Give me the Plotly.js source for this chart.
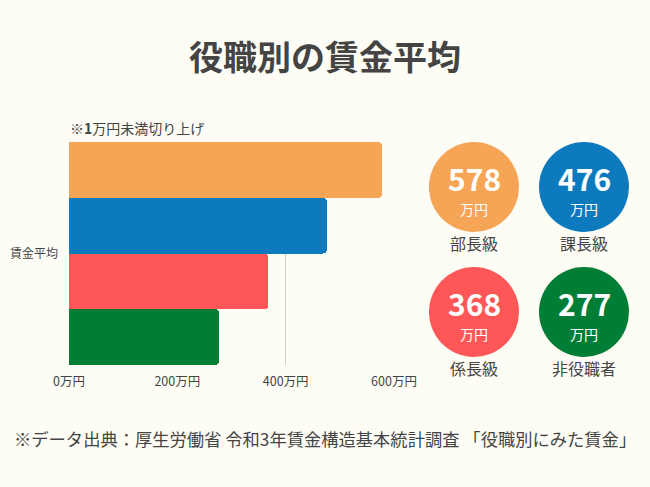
<!DOCTYPE html>
<html>
<head>
<meta charset="utf-8">
<script src="https://cdn.plot.ly/plotly-3.0.1.min.js"></script>
<style>
html,body{margin:0;padding:0;background:#fdfdf6;}
#chart{width:650px;height:487px;}
</style>
</head>
<body>
<div id="chart"></div>
<script>
const category = ['賃金平均'];
const roles = ['部長級', '課長級', '係長級', '非役職者'];
const wages = [578, 476, 368, 277];
const colors = ['#F6A455', '#0E7ABE', '#FF5757', '#007E36'];
const xTickVals = [0, 200, 400, 600];
const xTickText = ['0万円', '200万円', '400万円', '600万円'];

const FONT = 'Noto Sans CJK JP, Noto Sans, sans-serif';
const TXT = '#444444';

const traces = roles.map((r, i) => ({
  type: 'bar',
  orientation: 'h',
  name: r,
  y: category,
  x: [wages[i]],
  marker: {color: colors[i], line: {width: 0}},
  hoverinfo: 'skip'
}));

// plot area in pixels
const PL = 69, PR = 394, PT = 142, PB = 365;
const px = v => (v - PL) / (PR - PL);
const py = v => (PB - v) / (PB - PT);

// circle centers (pixels) for the 2x2 badge grid
const cxPx = [474, 584, 474, 584];
const cyPx = [187, 187, 312, 312];
const R = 45;
const shapes = [];
const annotations = [];
roles.forEach((r, i) => {
  const x = cxPx[i];
  const y = cyPx[i];
  shapes.push({
    type: 'circle', xref: 'paper', yref: 'paper',
    x0: px(x - R), x1: px(x + R),
    y0: py(y + R), y1: py(y - R),
    fillcolor: colors[i], line: {width: 0}, layer: 'above'
  });
  annotations.push({
    xref: 'paper', yref: 'paper', x: px(x), y: py(y - 9),
    text: '<b>' + wages[i] + '</b>', showarrow: false,
    font: {family: FONT, size: 30, color: '#ffffff'}, xanchor: 'center', yanchor: 'middle'
  });
  annotations.push({
    xref: 'paper', yref: 'paper', x: px(x), y: py(y + 22),
    text: '万円', showarrow: false,
    font: {family: FONT, size: 14, color: '#ffffff'}, xanchor: 'center', yanchor: 'middle'
  });
  annotations.push({
    xref: 'paper', yref: 'paper', x: px(x), y: py(y + 56),
    text: r, showarrow: false,
    font: {family: FONT, size: 16, color: TXT}, xanchor: 'center', yanchor: 'middle'
  });
});

annotations.push({
  xref: 'paper', yref: 'paper', x: px(68), y: py(128),
  text: '※<b>1</b>万円未満切り上げ', showarrow: false, xanchor: 'left', yanchor: 'middle',
  font: {family: FONT, size: 14, color: TXT}
});
annotations.push({
  xref: 'paper', yref: 'paper', x: px(12), y: py(438),
  text: '※データ出典：厚生労働省 令和3年賃金構造基本統計調査 「役職別にみた賃金」', showarrow: false,
  xanchor: 'left', yanchor: 'middle',
  font: {family: FONT, size: 17.3, color: TXT}
});

const layout = {
  width: 650, height: 487,
  paper_bgcolor: '#fdfdf6', plot_bgcolor: '#fdfdf6',
  margin: {l: PL, r: 650 - PR, t: PT, b: 487 - PB},
  title: {text: '<b>役職別の賃金平均</b>', x: 0.5, xanchor: 'center', xref: 'container', yref: 'container', y: 1 - 58 / 487, yanchor: 'middle',
    font: {family: FONT, size: 34, color: TXT}},
  barmode: 'group', bargap: 0, bargroupgap: 0, barcornerradius: 4,
  showlegend: false,
  xaxis: {range: [0, 600], tickvals: xTickVals, ticktext: xTickText, showgrid: true,
    gridcolor: '#cccccc', gridwidth: 1, zeroline: false, showline: false, ticks: '',
    ticklabelstandoff: 7,
    tickfont: {family: FONT, size: 12.5, color: TXT}, fixedrange: true},
  yaxis: {autorange: 'reversed', showgrid: false, zeroline: false, showline: false, ticks: '',
    ticklabelstandoff: 10,
    tickfont: {family: FONT, size: 12, color: TXT}, fixedrange: true},
  shapes: shapes,
  annotations: annotations,
  font: {family: FONT, color: TXT}
};

Plotly.newPlot('chart', traces, layout, {displayModeBar: false, staticPlot: true});
</script>
</body>
</html>
